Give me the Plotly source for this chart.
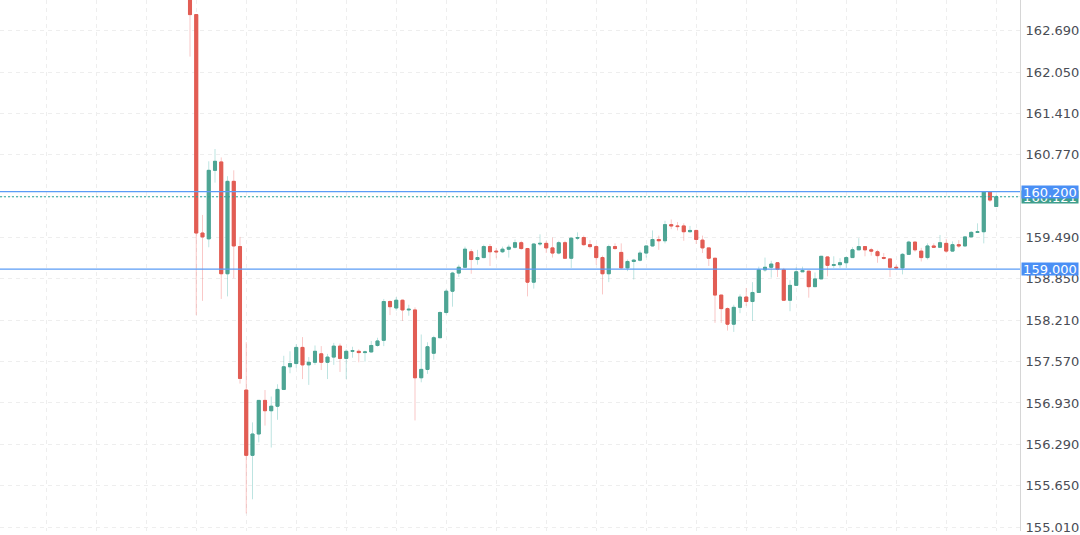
import plotly.graph_objects as go

# candle data (oldest -> newest)
opens = [163.35, 162.94, 159.56, 159.47, 160.53, 160.66, 158.93, 160.36, 159.35, 157.13,
         156.12, 156.45, 156.97, 156.81, 156.88, 157.14, 157.49, 157.54, 157.79, 157.52,
         157.56, 157.69, 157.56, 157.64, 157.81, 157.62, 157.73, 157.73, 157.71, 157.72,
         157.82, 157.90, 158.50, 158.40, 158.52, 158.37, 158.37, 157.32, 157.45, 157.70,
         157.94, 158.33, 158.66, 158.94, 159.03, 159.27, 159.15, 159.18, 159.35, 159.28,
         159.27, 159.31, 159.34, 159.41, 159.32, 158.80, 159.39, 159.40, 159.33, 159.25,
         159.41, 159.17, 159.48, 159.49, 159.38, 159.35, 159.18, 158.93, 159.35, 159.26,
         159.02, 159.12, 159.14, 159.25, 159.36, 159.46, 159.44, 159.69, 159.67, 159.67,
         159.58, 159.60, 159.45, 159.33, 159.17, 158.60, 158.39, 158.15, 158.41, 158.57,
         158.50, 158.64, 158.99, 159.03, 159.10, 158.99, 158.52, 158.75, 158.96, 158.97,
         158.73, 158.85, 159.19, 159.06, 159.07, 159.10, 159.18, 159.30, 159.35, 159.30,
         159.27, 159.18, 159.16, 159.03, 159.02, 159.23, 159.42, 159.28, 159.18, 159.36,
         159.34, 159.40, 159.28, 159.38, 159.36, 159.50, 159.57, 159.58, 160.20, 159.97]
highs = [163.45, 162.94, 159.84, 160.67, 160.86, 160.73, 160.44, 160.53, 159.50, 157.87,
         156.63, 156.97, 157.13, 157.03, 157.22, 157.66, 157.73, 157.84, 157.95, 157.64,
         157.82, 157.81, 157.69, 157.86, 157.85, 157.76, 157.80, 157.76, 157.74, 157.89,
         157.94, 158.54, 158.52, 158.57, 158.53, 158.45, 158.41, 157.99, 157.87, 157.97,
         158.35, 158.69, 158.96, 159.07, 159.35, 159.31, 159.30, 159.38, 159.39, 159.33,
         159.35, 159.38, 159.46, 159.44, 159.33, 159.40, 159.54, 159.44, 159.49, 159.44,
         159.44, 159.49, 159.57, 159.52, 159.45, 159.38, 159.21, 159.38, 159.40, 159.40,
         159.15, 159.16, 159.29, 159.36, 159.60, 159.52, 159.75, 159.77, 159.73, 159.71,
         159.67, 159.61, 159.52, 159.33, 159.17, 158.60, 158.41, 158.45, 158.61, 158.71,
         158.80, 159.04, 159.18, 159.13, 159.11, 159.02, 158.83, 159.03, 159.04, 158.97,
         158.95, 159.20, 159.20, 159.20, 159.17, 159.20, 159.34, 159.48, 159.35, 159.33,
         159.30, 159.25, 159.16, 159.07, 159.25, 159.44, 159.42, 159.33, 159.40, 159.40,
         159.53, 159.47, 159.43, 159.45, 159.51, 159.59, 159.71, 160.20, 160.21, 160.15]
lows = [162.29, 158.29, 158.51, 159.34, 160.34, 158.54, 158.58, 158.86, 157.23, 155.22,
        155.44, 156.32, 156.58, 156.24, 156.67, 157.13, 157.39, 157.47, 157.30, 157.21,
        157.52, 157.44, 157.30, 157.52, 157.41, 157.30, 157.63, 157.56, 157.57, 157.71,
        157.80, 157.81, 158.29, 158.36, 158.20, 158.28, 156.66, 157.25, 157.38, 157.60,
        157.94, 158.30, 158.42, 158.88, 159.03, 158.93, 159.07, 159.17, 159.05, 159.17,
        159.25, 159.18, 159.32, 159.30, 158.58, 158.70, 159.36, 159.25, 159.18, 159.23,
        159.17, 159.02, 159.45, 159.36, 159.32, 159.07, 158.61, 158.80, 159.30, 159.00,
        158.97, 158.84, 159.12, 159.18, 159.35, 159.30, 159.40, 159.62, 159.60, 159.44,
        159.57, 159.39, 159.25, 159.05, 158.17, 158.17, 158.05, 158.03, 158.32, 158.43,
        158.20, 158.64, 158.96, 158.87, 158.88, 158.52, 158.35, 158.75, 158.96, 158.56,
        158.73, 158.85, 158.89, 159.02, 159.02, 159.02, 159.18, 159.30, 159.20, 159.21,
        159.10, 159.15, 158.88, 158.99, 158.92, 159.23, 159.27, 159.12, 159.15, 159.33,
        159.33, 159.25, 159.27, 159.33, 159.35, 159.50, 159.56, 159.40, 160.04, 159.97]
closes = [162.94, 159.56, 159.50, 160.53, 160.67, 158.93, 160.36, 159.36, 157.31, 156.12,
          156.45, 156.97, 156.81, 156.88, 157.14, 157.49, 157.54, 157.79, 157.52, 157.56,
          157.73, 157.56, 157.64, 157.81, 157.62, 157.73, 157.74, 157.71, 157.72, 157.82,
          157.89, 158.50, 158.42, 158.52, 158.37, 158.38, 157.32, 157.45, 157.80, 157.94,
          158.33, 158.66, 158.94, 159.03, 159.31, 159.15, 159.18, 159.35, 159.27, 159.27,
          159.31, 159.34, 159.41, 159.32, 158.80, 159.39, 159.40, 159.33, 159.25, 159.41,
          159.17, 159.48, 159.49, 159.38, 159.35, 159.18, 158.93, 159.35, 159.32, 159.02,
          159.12, 159.14, 159.25, 159.36, 159.46, 159.44, 159.69, 159.67, 159.66, 159.58,
          159.60, 159.46, 159.33, 159.17, 158.60, 158.39, 158.15, 158.41, 158.57, 158.50,
          158.64, 158.99, 159.03, 159.08, 159.00, 158.52, 158.75, 158.96, 158.98, 158.73,
          158.85, 159.20, 159.06, 159.07, 159.10, 159.18, 159.30, 159.35, 159.30, 159.28,
          159.21, 159.17, 159.03, 159.02, 159.23, 159.42, 159.30, 159.18, 159.36, 159.34,
          159.41, 159.28, 159.38, 159.36, 159.50, 159.57, 159.58, 160.20, 160.07, 160.121]

bars = list(range(len(closes)))

price_ticks = [155.010, 155.650, 156.290, 156.930, 157.570, 158.210, 158.850,
               159.490, 160.130, 160.770, 161.410, 162.050, 162.690]
# 160.130 sits under the level labels in the reference, so skip its text
tick_text = ["155.010", "155.650", "156.290", "156.930", "157.570", "158.210", "158.850",
             "159.490", "", "160.770", "161.410", "162.050", "162.690"]

level_top = 160.200
level_bottom = 159.000
last_price = closes[-1]

UP = "#4ea594"
DOWN = "#e25d54"
UP_WICK = "rgba(38,166,154,0.30)"
DOWN_WICK = "rgba(239,83,80,0.32)"
BLUE = "#5b9cf6"

body_hi = [max(o, c) for o, c in zip(opens, closes)]
body_lo = [min(o, c) for o, c in zip(opens, closes)]

fig = go.Figure()

# wicks (pale)
fig.add_trace(go.Candlestick(
    x=bars, open=opens, high=highs, low=lows, close=closes,
    increasing=dict(line=dict(color=UP_WICK, width=1), fillcolor=UP),
    decreasing=dict(line=dict(color=DOWN_WICK, width=1), fillcolor=DOWN),
    showlegend=False, hoverinfo="skip"))

# bodies (solid)
fig.add_trace(go.Candlestick(
    x=bars, open=opens, high=body_hi, low=body_lo, close=closes,
    increasing=dict(line=dict(color=UP, width=1), fillcolor=UP),
    decreasing=dict(line=dict(color=DOWN, width=1), fillcolor=DOWN),
    showlegend=False))

for lvl in (level_top, level_bottom):
    fig.add_shape(type="line", xref="paper", x0=0, x1=1, yref="y", y0=lvl, y1=lvl,
                  line=dict(color=BLUE, width=1.3))
fig.add_shape(type="line", xref="paper", x0=0, x1=1, yref="y", y0=last_price, y1=last_price,
              line=dict(color="#26a69a", width=1, dash="2px,2px"))

# price labels on the axis
labels = [(last_price, "%.3f" % last_price, "#3f9e8c"),
          (level_top, "%.3f" % level_top, "#4a8ff5"),
          (level_bottom, "%.3f" % level_bottom, "#4a8ff5")]
for y, txt, col in labels:
    fig.add_annotation(x=1, xref="paper", xanchor="left", xshift=1, y=y, yref="y",
                       text=txt, showarrow=False, bgcolor=col, borderpad=0,
                       width=56, height=12, align="center",
                       font=dict(family="DejaVu Sans", size=13, color="white"))

fig.update_layout(
    width=1080, height=535,
    margin=dict(l=0, r=60, t=0, b=0),
    paper_bgcolor="white", plot_bgcolor="white",
    font=dict(family="DejaVu Sans", size=13, color="#4a4d55"),
    showlegend=False,
)
fig.update_xaxes(range=[-30.4, 132.8], rangeslider_visible=False,
                 tickvals=list(range(-23, 133, 8)), showticklabels=False,
                 showgrid=True, gridcolor="#eeeeee", griddash="4px,4px",
                 zeroline=False, showline=False, ticks="")
fig.update_yaxes(side="right", range=[154.949, 163.166],
                 tickvals=price_ticks, ticktext=tick_text,
                 showgrid=True, gridcolor="#eeeeee", griddash="4px,4px",
                 zeroline=False, showline=True, linecolor="#d6d6d6", linewidth=1,
                 ticks="", ticklabelstandoff=2, ticklabeloverflow="allow")

# page body has a default margin; drop it so the figure sits at the window corner
fig.write_html("out.html", config={"displayModeBar": False},
               post_script="document.body.style.margin='0px';")
